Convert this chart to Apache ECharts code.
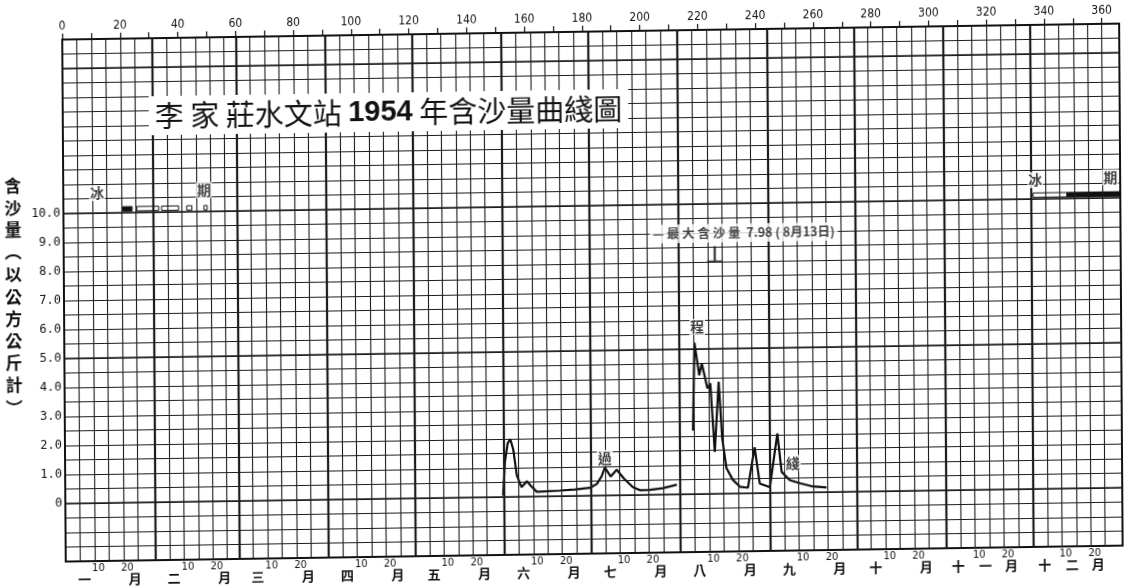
<!DOCTYPE html>
<html><head><meta charset="utf-8">
<script src="https://cdn.jsdelivr.net/npm/echarts@6/dist/echarts.min.js"></script>
<style>
html,body{margin:0;padding:0;background:#fff;overflow:hidden;}
#c{width:1130px;height:586px;transform-origin:565px 293px;transform:matrix(1,-0.0151,0.0067,1,0,0);}
</style></head><body><div id="c"></div>
<script>
// ---- data ----
const monthDays = [31,29,31,30,31,30,31,31,30,31,30,31];
const monthNames = ['一','二','三','四','五','六','七','八','九','十','十一','十二'];
const topTickValues = [0,10,20,30,40,50,60,70,80,90,100,110,120,130,140,150,160,170,180,190,200,210,220,230,240,250,260,270,280,290,300,310,320,330,340,350,360];
const topLabelValues = [0,20,40,60,80,100,120,140,160,180,200,220,240,260,280,300,320,340,360];
const yLabelValues = [0,1,2,3,4,5,6,7,8,9,10];

// daily sediment concentration, flood season 1 (Jun-Jul)
const floodDays1 = [151.6,152.3,153.3,154.2,155.2,156.4,158.0,159.9,161.3,163.3,171.3,176.5,181.7,184.1,185.8,186.9,188.9,191.0,193.5,196.6,199.0,202.5,207.0,211.8];
const floodVals1 = [0.05,1.20,1.85,1.99,1.64,0.74,0.33,0.53,0.36,0.16,0.19,0.22,0.27,0.40,0.67,0.96,0.65,0.88,0.57,0.27,0.16,0.17,0.22,0.33];
// flood season 2 (Aug-Sep)
const floodDays2 = [217.5,218.2,219.8,220.7,222.6,223.6,225.0,226.5,227.6,229.0,231.2,233.6,236.4,238.8,240.5,244.0,246.7,248.1,250.9,254.4,258.9,263.6];
const floodVals2 = [2.19,5.22,4.09,4.50,3.64,3.81,1.44,3.86,1.91,0.88,0.47,0.23,0.19,1.58,0.33,0.20,2.05,0.72,0.43,0.32,0.20,0.16];

const maxDay = 225.4;
const maxValue = 7.98;

// ice periods
const iceLevel = 10.13;
const iceStart = [20.6,25.4,34.0,42.7,48.7,335.8,347.5];
const iceEnd   = [23.8,33.0,39.9,44.5,49.8,347.5,366];
const iceSolid = [1,0,0,0,0,0,1];

// annotations
const noteTexts = ['冰','期','冰','期','過','程','綫','— 最 大 含 沙 量  ' + maxValue.toFixed(2) + ' ( 8月13日)'];
const noteKinds = ['ice','ice','ice','ice','curve','curve','curve','max'];
const noteDays  = [11.7,48.7,336.6,362.6,186.9,219.2,252.0,235.5];
const noteVals  = [10.69,10.74,10.65,10.71,1.29,5.76,1.02,8.98];

const titleText = '李 家 莊水文站 {b|1954} 年含沙量曲綫圖';
const yNameChars = ['含','沙','量','︵','以','公','方','公','斤','計','︶'];

// ---- derived layout ----
const monthStarts = [0];
monthDays.forEach(d => monthStarts.push(monthStarts[monthStarts.length-1] + d));

const dayLabelVals = [], dayLabelText = {};
const monthLabelVals = [], monthLabelText = {};
monthNames.forEach((name, i) => {
  const s = monthStarts[i];
  [[10, 11.3], [20, 21.3]].forEach(([t, off]) => {
    const v = s + off; dayLabelVals.push(v); dayLabelText[v.toFixed(2)] = String(t);
  });
  const parts = name.length === 1 ? [[name, 6.5], ['月', 24]] : [[name[0], 4], [name[1], 13.5], ['月', 22.5]];
  parts.forEach(([ch, off]) => {
    const v = s + off; monthLabelVals.push(v); monthLabelText[v.toFixed(2)] = ch;
  });
});

const LINE = '#1c1c1c';
const gridLines = [];
monthStarts.forEach((s, i) => {
  if (i > 0 && i < 12) gridLines.push({xAxis: s, lineStyle: {width: 2.2, color: LINE}});
  if (i < 12) for (let k = 5; k <= 25; k += 5) gridLines.push({xAxis: s + k, lineStyle: {width: 1.1, color: LINE}});
});
[0, 5, 10, 15].forEach(v => gridLines.push({yAxis: v, lineStyle: {width: 1.7, color: LINE}}));

const CJK = '"Noto Sans CJK TC", "Noto Sans CJK SC", sans-serif';
const NARROW = '"Liberation Sans Narrow", "DejaVu Sans Condensed", "Liberation Sans", sans-serif';
const noteStyle = {
  ice:   {fontSize: 14, fontWeight: 'bold', padding: [1, 1]},
  curve: {fontSize: 14, fontWeight: 'bold', padding: [1, 1]},
  max:   {fontSize: 12.5, fontWeight: 'bold', padding: [3, 3]}
};

const chart = echarts.init(document.getElementById('c'), null, {renderer: 'canvas'});
chart.setOption({
  animation: false,
  backgroundColor: '#fff',
  title: {
    text: titleText, left: 150, top: 90, padding: [5, 6], backgroundColor: '#fff',
    textStyle: {fontSize: 29, fontWeight: 'normal', color: '#111', fontFamily: CJK,
      rich: {b: {fontSize: 29, fontWeight: 'bold', color: '#111', fontFamily: '"Liberation Sans", Arial, sans-serif'}}}
  },
  graphic: [{
    type: 'text', left: 5, top: 166, z: 10,
    style: {text: yNameChars.join('\n'), font: 'bold 17px ' + CJK, lineHeight: 22.2, fill: '#111', align: 'center'}
  }],
  grid: {left: 64, top: 32, width: 1057, height: 522, show: true, borderColor: '#111', borderWidth: 2, backgroundColor: 'transparent'},
  xAxis: [
    {type: 'value', position: 'top', min: 0, max: 366,
      axisLine: {show: true, onZero: false, lineStyle: {color: '#111', width: 2}},
      axisTick: {show: true, inside: false, length: 6, customValues: topTickValues, lineStyle: {color: '#111', width: 1.2}},
      axisLabel: {customValues: topLabelValues, fontSize: 12, margin: 7, color: '#111', fontFamily: NARROW},
      splitLine: {show: false}},
    {type: 'value', position: 'bottom', min: 0, max: 366,
      axisLine: {show: true, onZero: false, lineStyle: {color: '#111', width: 2}},
      axisTick: {show: false},
      axisLabel: {customValues: dayLabelVals, formatter: v => dayLabelText[v.toFixed(2)] || '', fontSize: 11, margin: 2, color: '#111', fontFamily: NARROW},
      splitLine: {show: false}},
    {type: 'value', position: 'bottom', min: 0, max: 366,
      axisLine: {show: false, onZero: false}, axisTick: {show: false},
      axisLabel: {customValues: monthLabelVals, formatter: v => monthLabelText[v.toFixed(2)] || '', fontSize: 13, fontWeight: 'bold', margin: 12, color: '#111', fontFamily: CJK},
      splitLine: {show: false}}
  ],
  yAxis: {
    type: 'value', min: -2, max: 16, interval: 0.5,
    axisLine: {show: true, onZero: false, lineStyle: {color: '#111', width: 2}},
    axisTick: {show: false},
    axisLabel: {customValues: yLabelValues, formatter: v => v === 0 ? '0' : v.toFixed(1), fontSize: 12, margin: 3, color: '#111', fontFamily: '"DejaVu Sans Mono", monospace'},
    splitLine: {show: true, lineStyle: {color: LINE, width: 1.1}}
  },
  series: [
    {type: 'line', name: 'grid', data: [], z: 1, silent: true,
      markLine: {silent: true, symbol: ['none', 'none'], label: {show: false}, animation: false,
        lineStyle: {type: 'solid'}, emphasis: {disabled: true}, data: gridLines}},
    {type: 'line', name: 'flood1', xAxisIndex: 0, z: 3, showSymbol: false, smooth: false,
      data: floodDays1.map((d, i) => [d, floodVals1[i]]), lineStyle: {color: '#111', width: 2.2}},
    {type: 'line', name: 'flood2', xAxisIndex: 0, z: 3, showSymbol: false, smooth: false,
      data: floodDays2.map((d, i) => [d, floodVals2[i]]), lineStyle: {color: '#111', width: 2.2}},
    {type: 'custom', name: 'ice', z: 4,
      data: iceStart.map((s, i) => [s, iceEnd[i], iceSolid[i], iceLevel]),
      encode: {x: [0, 1], y: 3},
      renderItem: (params, api) => {
        const a = api.coord([api.value(0), api.value(3) + 0.075]);
        const b = api.coord([api.value(1), api.value(3) - 0.075]);
        return {type: 'rect', shape: {x: a[0], y: a[1], width: b[0] - a[0], height: b[1] - a[1]},
          style: {fill: api.value(2) ? '#111' : '#fff', stroke: '#111', lineWidth: 1}};
      }},
    {type: 'scatter', name: 'max', z: 4, data: [[maxDay, maxValue]],
      symbol: 'path://M0,15 L14,15 L14,17 L0,17 Z M6,0 L8.2,0 L8.2,17 L6,17 Z',
      symbolSize: [15, 16], symbolOffset: [0, -8], itemStyle: {color: '#111'}},
    {type: 'scatter', name: 'notes', z: 6, symbolSize: 1, itemStyle: {color: 'rgba(0,0,0,0)'},
      data: noteTexts.map((t, i) => ({
        value: [noteDays[i], noteVals[i]], name: t,
        label: Object.assign({show: true, position: 'inside', formatter: t, color: '#111', backgroundColor: '#fff', fontFamily: CJK}, noteStyle[noteKinds[i]])
      }))}
  ]
});
</script></body></html>
